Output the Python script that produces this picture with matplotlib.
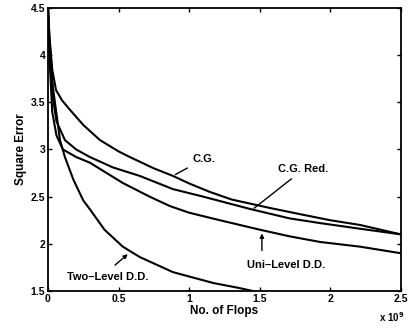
import matplotlib
matplotlib.use("Agg")
import matplotlib.pyplot as plt

plt.rcParams['font.family'] = ['Liberation Sans', 'DejaVu Sans']
plt.rcParams['font.weight'] = 'bold'

# Curves (flops in units of 1e9, square error)
cg_x = [0, 0.01, 0.03, 0.057, 0.1, 0.156, 0.25, 0.368, 0.5, 0.58, 0.75, 0.885,
        1.0, 1.147, 1.3, 1.572, 1.8, 2.0, 2.21, 2.5]
cg_y = [4.5, 4.2, 3.85, 3.63, 3.52, 3.42, 3.26, 3.10, 2.98, 2.92, 2.80, 2.72,
        2.64, 2.55, 2.47, 2.38, 2.31, 2.25, 2.20, 2.10]

cgred_x = [0, 0.01, 0.03, 0.06, 0.12, 0.2, 0.297, 0.46, 0.65, 0.885, 1.10,
           1.43, 1.71, 1.926, 2.21, 2.5]
cgred_y = [4.5, 4.1, 3.6, 3.3, 3.10, 3.00, 2.92, 2.81, 2.72, 2.58, 2.50,
           2.37, 2.27, 2.22, 2.16, 2.10]

uni_x = [0, 0.01, 0.03, 0.06, 0.106, 0.2, 0.297, 0.53, 0.72, 0.864, 1.0,
         1.218, 1.5, 1.71, 1.926, 2.21, 2.5]
uni_y = [4.5, 4.0, 3.4, 3.15, 3.0, 2.92, 2.86, 2.645, 2.50, 2.40, 2.33,
         2.25, 2.15, 2.08, 2.02, 1.97, 1.90]

two_x = [0, 0.01, 0.035, 0.085, 0.12, 0.18, 0.25, 0.30, 0.4, 0.53, 0.65,
         0.885, 1.17, 1.36, 1.45]
two_y = [4.5, 4.2, 3.66, 3.1, 2.92, 2.68, 2.46, 2.36, 2.15, 1.97, 1.86,
         1.70, 1.585, 1.53, 1.50]

x_ticks = [0, 0.5, 1, 1.5, 2, 2.5]
x_ticklabels = ["0", "0.5", "1", "1.5", "2", "2.5"]
y_ticks = [1.5, 2, 2.5, 3, 3.5, 4, 4.5]
y_ticklabels = ["1.5", "2", "2.5", "3", "3.5", "4", "4.5"]

fig = plt.figure(figsize=(4.1, 3.29), dpi=100)
ax = fig.add_axes([0.117, 0.1155, 0.861, 0.8602])

for xs, ys in [(cg_x, cg_y), (cgred_x, cgred_y), (uni_x, uni_y), (two_x, two_y)]:
    ax.plot(xs, ys, color="black", lw=1.5, solid_joinstyle="round")

ax.set_xlim(0, 2.5)
ax.set_ylim(1.5, 4.5)
ax.set_xticks(x_ticks)
ax.set_xticklabels(x_ticklabels)
ax.set_yticks(y_ticks)
ax.set_yticklabels(y_ticklabels)
ax.tick_params(direction="in", top=True, right=True, length=3, width=1,
               labelsize=7.5, pad=2)
for s in ax.spines.values():
    s.set_linewidth(1.3)

ax.set_xlabel("No. of Flops", fontsize=8.5, fontweight="bold", labelpad=1)
ax.set_ylabel("Square Error", fontsize=8.5, fontweight="bold", labelpad=3)
fig.text(0.985, 0.015, r"x 10$^9$", ha="right", va="bottom", fontsize=7)

line = dict(arrowstyle="-", color="black", lw=1)
arrow = dict(arrowstyle="-|>", color="black", lw=1, mutation_scale=6)
ax.annotate("C.G.", xy=(0.885, 2.72), xytext=(1.105, 2.90), fontsize=8,
            ha="center", va="center", arrowprops=line)
ax.annotate("C.G. Red.", xy=(1.445, 2.36), xytext=(1.81, 2.79), fontsize=8,
            ha="center", va="center", arrowprops=line)
ax.annotate("", xy=(1.515, 2.14), xytext=(1.515, 1.90), arrowprops=arrow)
ax.text(1.69, 1.78, "Uni\u2013Level D.D.", fontsize=8, ha="center", va="center")
ax.annotate("", xy=(0.58, 1.91), xytext=(0.46, 1.755), arrowprops=arrow)
ax.text(0.425, 1.65, "Two\u2013Level D.D.", fontsize=8, ha="center", va="center")

fig.savefig("out.png", dpi=100)
